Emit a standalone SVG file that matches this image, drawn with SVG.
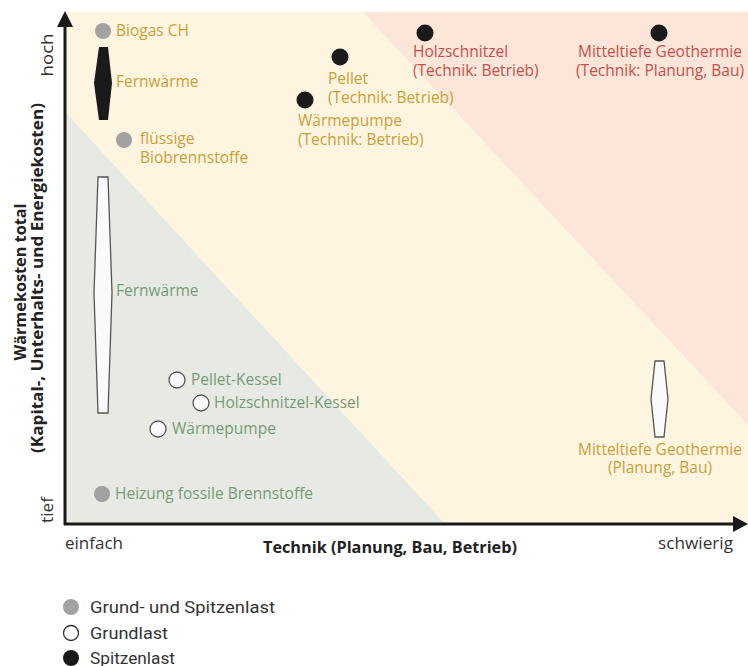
<svg xmlns="http://www.w3.org/2000/svg" width="748" height="666" viewBox="0 0 748 666">
<style>
text{font-family:"Open Sans","DejaVu Sans",sans-serif;font-size:15.5px}
.gold{fill:#c9a038}
.red{fill:#c4504a}
.grn{fill:#789a78}
.ax{fill:#333;font-size:17px}
.gray{fill:#a2a2a2}
.blk{fill:#1a1a1a}
.wht{fill:#fafafa;stroke:#555;stroke-width:1.3}
.cond{font-family:Roboto,"Open Sans",sans-serif;font-size:16px;fill:#333}
.ttl{font-weight:bold;fill:#222;font-size:16px}
.axis{stroke:#1a1a1a;stroke-width:3;fill:none}
</style>
<rect width="748" height="666" fill="#fff"/>
<g id="background">
<rect x="66" y="12" width="682" height="512" fill="#fdf5e0"/>
<polygon points="66,113 445,524 66,524" fill="#e6eae3"/>
<polygon points="363,12 748,12 748,425" fill="#fce5d9"/>
</g>
<g id="connectors">
<line x1="65" y1="525" x2="65" y2="26" class="axis"/>
<polygon points="65,11 57,27 73,27" fill="#1a1a1a"/>
<line x1="64" y1="524" x2="735" y2="524" class="axis"/>
<polygon points="748,524 733,516 733,532" fill="#1a1a1a"/>
</g>
<g id="axis-labels">
<text class="ax" transform="translate(53,55) rotate(-90)" text-anchor="middle" textLength="43" lengthAdjust="spacingAndGlyphs">hoch</text>
<text class="ax" transform="translate(53,510) rotate(-90)" text-anchor="middle" textLength="26" lengthAdjust="spacingAndGlyphs">tief</text>
<text class="ttl" transform="translate(26,282) rotate(-90)" text-anchor="middle" textLength="157" lengthAdjust="spacingAndGlyphs">Wärmekosten total</text>
<text class="ttl" transform="translate(43,278) rotate(-90)" text-anchor="middle" textLength="350" lengthAdjust="spacingAndGlyphs">(Kapital-, Unterhalts- und Energiekosten)</text>
<text class="ax" x="65" y="549" textLength="58" lengthAdjust="spacingAndGlyphs">einfach</text>
<text x="390" y="553" text-anchor="middle" font-family="Roboto,sans-serif" font-size="16" font-weight="bold" fill="#222" textLength="254" lengthAdjust="spacingAndGlyphs">Technik (Planung, Bau, Betrieb)</text>
<text class="ax" x="658" y="549" textLength="75" lengthAdjust="spacingAndGlyphs">schwierig</text>
</g>
<g id="biogas">
<circle cx="103" cy="31" r="8" class="gray"/>
<text class="gold" x="116" y="36">Biogas CH</text>
</g>
<g id="fernwaerme-spitze">
<polygon points="99,47 108,47 112,83 108,120 99,120 94,83" class="blk"/>
<text class="gold" x="116" y="87">Fernwärme</text>
</g>
<g id="biobrennstoffe">
<circle cx="124" cy="140" r="8" class="gray"/>
<text class="gold" x="140" y="144">flüssige</text>
<text class="gold" x="140" y="163">Biobrennstoffe</text>
</g>
<g id="pellet-spitze">
<circle cx="340" cy="57" r="8.5" class="blk"/>
<text class="gold" x="328" y="84">Pellet</text>
<text class="gold" x="328" y="103">(Technik: Betrieb)</text>
</g>
<g id="waermepumpe-spitze">
<circle cx="305" cy="100" r="8.5" class="blk"/>
<text class="gold" x="298" y="126">Wärmepumpe</text>
<text class="gold" x="298" y="145">(Technik: Betrieb)</text>
</g>
<g id="holzschnitzel-spitze">
<circle cx="425" cy="33" r="8.5" class="blk"/>
<text class="red" x="413" y="57">Holzschnitzel</text>
<text class="red" x="413" y="76">(Technik: Betrieb)</text>
</g>
<g id="geothermie-spitze">
<circle cx="659" cy="33" r="8.5" class="blk"/>
<text class="red" x="660" y="57" text-anchor="middle">Mitteltiefe Geothermie</text>
<text class="red" x="660" y="76" text-anchor="middle">(Technik: Planung, Bau)</text>
</g>
<g id="fernwaerme-grund">
<polygon points="98,177 108,177 112,293 108,413 98,413 94,293" class="wht"/>
<text class="grn" x="116" y="296">Fernwärme</text>
</g>
<g id="pellet-kessel">
<circle cx="177" cy="380" r="8" class="wht"/>
<text class="grn" x="191" y="385">Pellet-Kessel</text>
</g>
<g id="holzschnitzel-kessel">
<circle cx="201" cy="403" r="8" class="wht"/>
<text class="grn" x="214" y="408">Holzschnitzel-Kessel</text>
</g>
<g id="waermepumpe-grund">
<circle cx="158" cy="429" r="8" class="wht"/>
<text class="grn" x="172" y="434">Wärmepumpe</text>
</g>
<g id="fossil">
<circle cx="102" cy="494" r="8" class="gray"/>
<text class="grn" x="115" y="499">Heizung fossile Brennstoffe</text>
</g>
<g id="geothermie-grund">
<polygon points="655,361 664,361 668,399 664,437 655,437 651,399" class="wht"/>
<text class="gold" x="660" y="455" text-anchor="middle">Mitteltiefe Geothermie</text>
<text class="gold" x="660" y="473" text-anchor="middle">(Planung, Bau)</text>
</g>
<g id="legend">
<circle cx="71" cy="607" r="8" class="gray"/>
<text class="cond" x="90" y="613" textLength="185" lengthAdjust="spacingAndGlyphs">Grund- und Spitzenlast</text>
<circle cx="71" cy="633" r="7.5" fill="#fff" stroke="#333" stroke-width="1.3"/>
<text class="cond" x="90" y="639" textLength="78" lengthAdjust="spacingAndGlyphs">Grundlast</text>
<circle cx="71" cy="658" r="8" class="blk"/>
<text class="cond" x="90" y="664" textLength="85" lengthAdjust="spacingAndGlyphs">Spitzenlast</text>
</g>
</svg>
